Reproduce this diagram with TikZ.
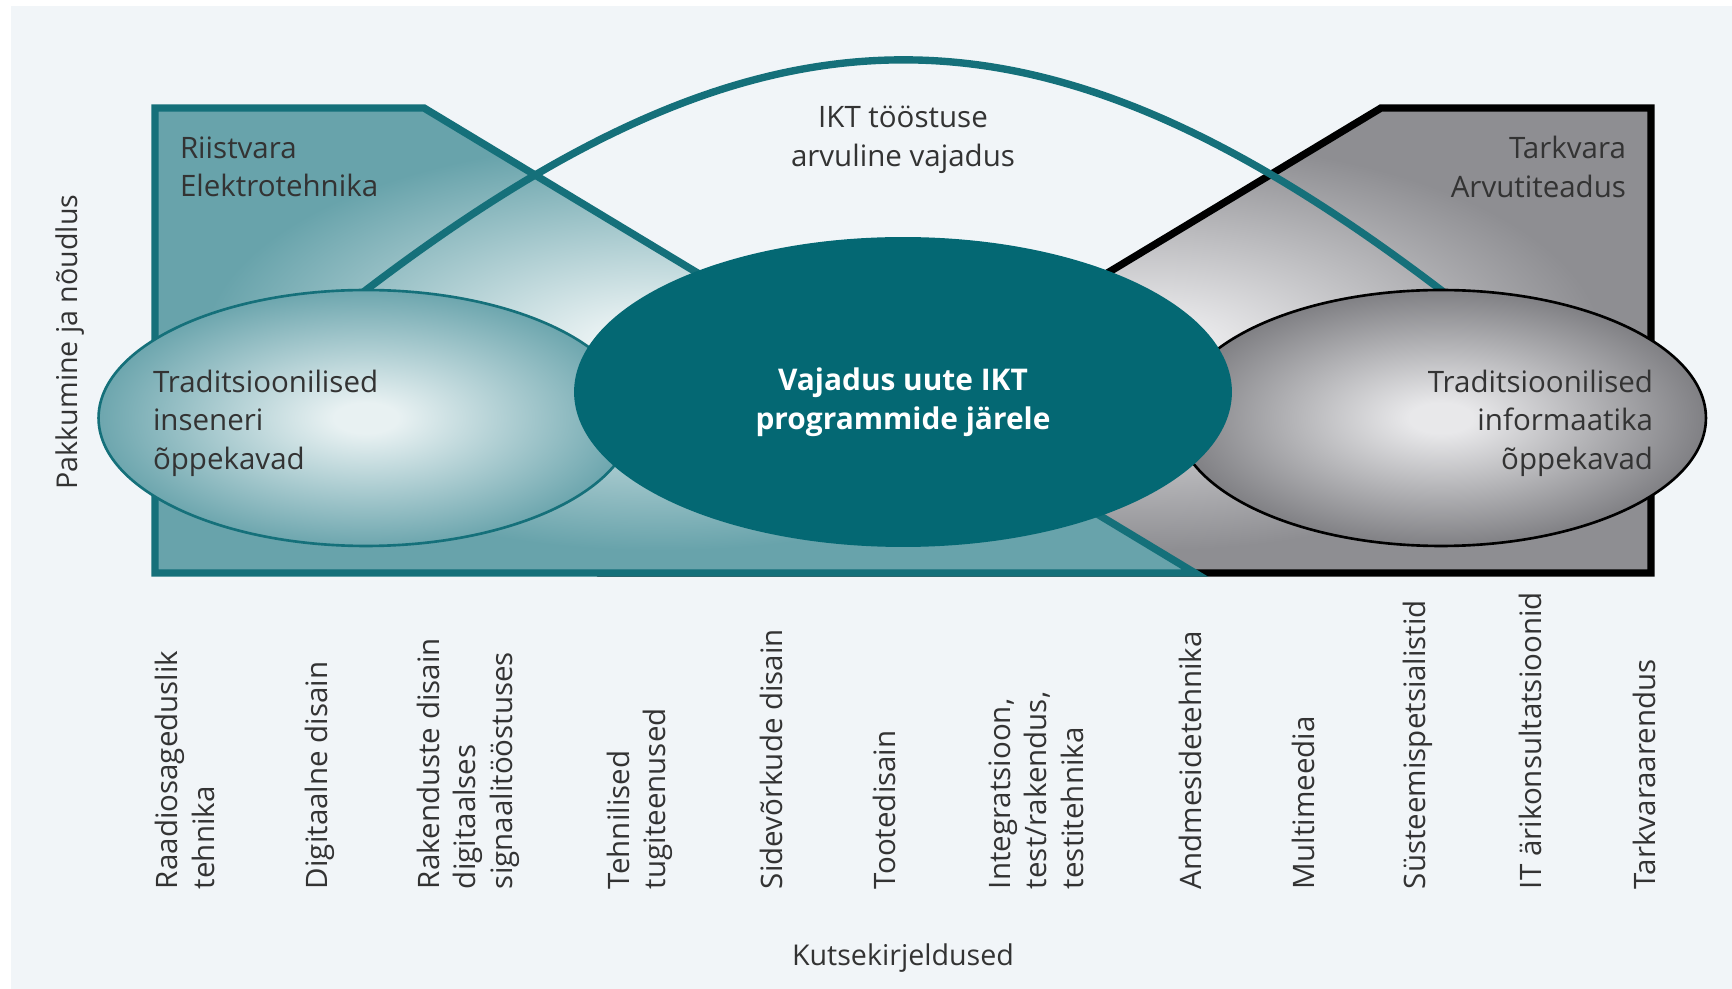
\documentclass[tikz,border=0pt]{standalone}
\usepackage{fontspec}
\setmainfont{Open Sans}
\usetikzlibrary{shapes.geometric}

\definecolor{bgcol}{HTML}{F1F5F8}
\definecolor{tealline}{HTML}{15707A}
\definecolor{tealcore}{HTML}{046873}
\definecolor{tealdark}{HTML}{68A3AB}
\definecolor{teallight}{HTML}{E8F1F2}
\definecolor{tealrim}{HTML}{6DA6AE}
\definecolor{greydark}{HTML}{8E8E92}
\definecolor{greylight}{HTML}{E8E8EA}
\definecolor{greyrim}{HTML}{808084}
\definecolor{txt}{HTML}{333333}

% soft glows inside the two sector shapes and the two curriculum ovals
% (a path shading spans +-25bp across the bounding box of the path)
\pgfdeclareradialshading{tealglow}{\pgfpoint{-1.2bp}{-1bp}}{color(0bp)=(teallight); color(3bp)=(teallight); color(22bp)=(tealdark); color(50bp)=(tealdark)}
\pgfdeclareradialshading{greyglow}{\pgfpoint{1.2bp}{-1bp}}{color(0bp)=(greylight); color(3bp)=(greylight); color(22bp)=(greydark); color(50bp)=(greydark)}
\pgfdeclareradialshading{tealoval}{\pgforigin}{color(0bp)=(teallight); color(3bp)=(teallight); color(25bp)=(tealrim); color(40bp)=(tealrim)}
\pgfdeclareradialshading{greyoval}{\pgforigin}{color(0bp)=(greylight); color(3bp)=(greylight); color(25bp)=(greyrim); color(40bp)=(greyrim)}

\pgfdeclarelayer{bg}
\pgfdeclarelayer{mid}
\pgfsetlayers{bg,mid,main}

\tikzset{
  sector/.style={line width=4.2pt, shade},
  oval/.style={ellipse, shade, inner sep=0pt, outer sep=0pt, line width=1.5pt,
    minimum width=10.7cm, minimum height=5.12cm},
  band/.style={draw=tealline, line width=4.2pt},
  lbl/.style={text=txt, inner sep=0pt, outer sep=0pt, font=\fontsize{16.8pt}{21.9pt}\selectfont},
  occ/.style={text=txt, inner sep=0pt, outer sep=0pt, rotate=90, anchor=west, align=left,
    font=\fontsize{16.8pt}{20.8pt}\selectfont},
  axislbl/.style={text=txt, inner sep=0pt, font=\fontsize{16.3pt}{20pt}\selectfont}
}

\begin{document}
\begin{tikzpicture}[x=0.02cm, y=-0.02cm]
\useasboundingbox (0,0) rectangle (1732,989);

\begin{pgfonlayer}{bg}
  \fill[bgcol] (11,6) rectangle (1732,989);
  % software sector
  \draw[sector, draw=black, shading=greyglow]
    (1651,108) -- (1381,108) -- (610,573) -- (1651,573) -- cycle;
  % hardware sector
  \draw[sector, draw=tealline, shading=tealglow]
    (155,108) -- (424,108) -- (1195,573) -- (155,573) -- cycle;
\end{pgfonlayer}

% curriculum ovals
\node[oval, draw=tealline, shading=tealoval] (eng) at (366,418) {};
\node[oval, draw=black, shading=greyoval, minimum width=10.6cm] (info) at (1441,418) {};

% industry demand band
\begin{pgfonlayer}{mid}
  \draw[band, shorten <=-6pt, shorten >=-6pt]
    (eng.north) .. controls (768,-19) and (1039,-19) .. (info.north);
\end{pgfonlayer}

% central demand
\node[ellipse, fill=tealcore, inner sep=0pt, minimum width=13.16cm, minimum height=6.2cm] (demand) at (903,392) {};
\node[text=white, inner sep=0pt, align=center, font=\fontsize{17pt}{22pt}\selectfont\bfseries]
  (demandtxt) at (903,402) {Vajadus uute IKT\\programmide järele};

% sector and oval labels
\node[lbl, align=left, anchor=west] (hw) at (180,167) {Riistvara\\Elektrotehnika};
\node[lbl, align=right, anchor=east] (sw) at (1626,167) {Tarkvara\\Arvutiteadus};
\node[lbl, align=center] (ikt) at (903,140) {IKT tööstuse\\arvuline vajadus};
\node[lbl, align=left, anchor=west] (engtxt) at (153,423) {Traditsioonilised\\inseneri\\õppekavad};
\node[lbl, align=right, anchor=east] (infotxt) at (1653,423) {Traditsioonilised\\informaatika\\õppekavad};

% axes
\node[axislbl, rotate=90] (supply) at (70,342) {Pakkumine ja nõudlus};
\node[axislbl] (jobs) at (903,958) {Kutsekirjeldused};

% occupational profiles
\node[occ] (o1) at (185,889) {Raadiosageduslik\\tehnika};
\node[occ] (o2) at (320,889) {Digitaalne disain};
\node[occ] (o3) at (468,889) {Rakenduste disain\\digitaalses\\signaalitööstuses};
\node[occ] (o4) at (640,889) {Tehnilised\\tugiteenused};
\node[occ] (o5) at (771,889) {Sidevõrkude disain};
\node[occ] (o6) at (884,889) {Tootedisain};
\node[occ] (o7) at (1036,889) {Integratsioon,\\test/rakendus,\\testitehnika};
\node[occ] (o8) at (1190,889) {Andmesidetehnika};
\node[occ] (o9) at (1303,889) {Multimeedia};
\node[occ] (o10) at (1418,889) {Süsteemispetsialistid};
\node[occ] (o11) at (1530,889) {IT ärikonsultatsioonid};
\node[occ] (o12) at (1644,889) {Tarkvaraarendus};
\end{tikzpicture}
\end{document}
